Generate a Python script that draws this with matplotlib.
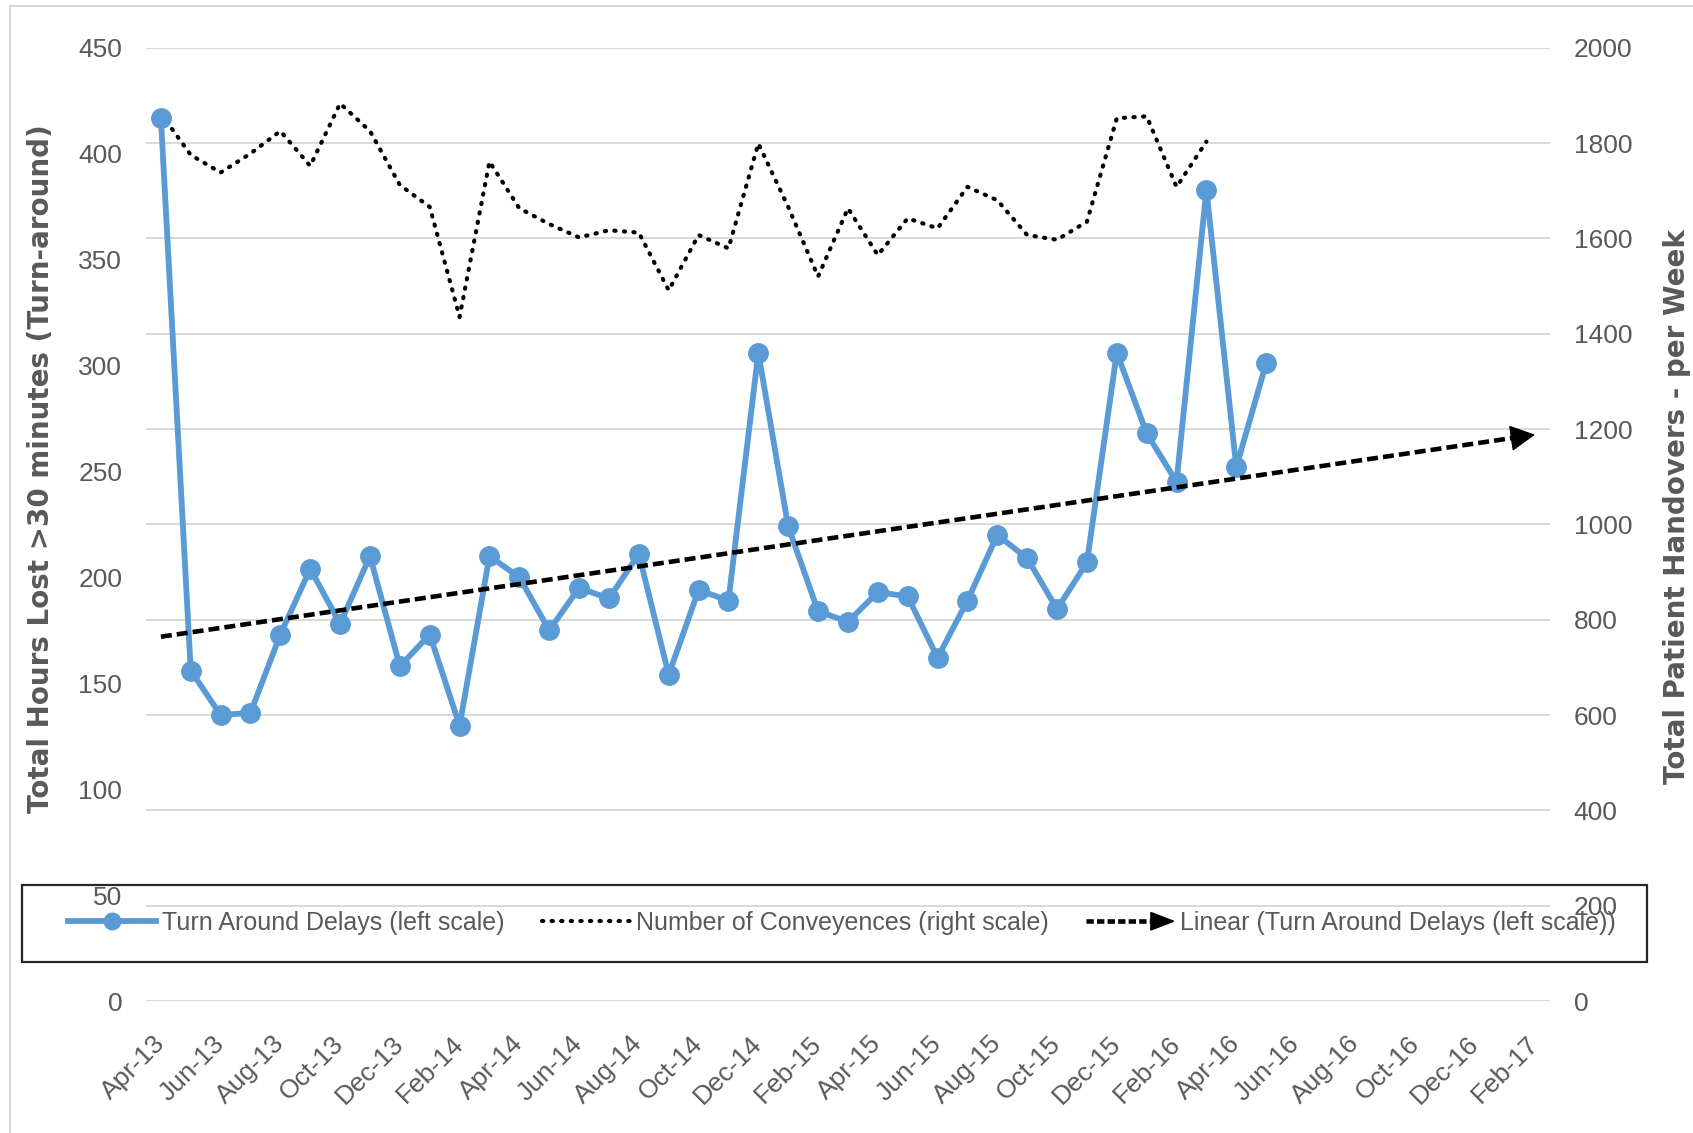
import numpy as np
import matplotlib
matplotlib.use('Agg')
import matplotlib.pyplot as plt
from matplotlib.lines import Line2D
from matplotlib.patches import Rectangle, Polygon
from matplotlib.legend_handler import HandlerBase
from matplotlib.transforms import ScaledTranslation

plt.rcParams['font.family'] = ['Liberation Sans', 'DejaVu Sans']

tick_labels = ['Apr-13', 'Jun-13', 'Aug-13', 'Oct-13', 'Dec-13', 'Feb-14', 'Apr-14', 'Jun-14',
               'Aug-14', 'Oct-14', 'Dec-14', 'Feb-15', 'Apr-15', 'Jun-15', 'Aug-15', 'Oct-15',
               'Dec-15', 'Feb-16', 'Apr-16', 'Jun-16', 'Aug-16', 'Oct-16', 'Dec-16', 'Feb-17']

# monthly from Apr-13 to May-16 (left scale)
delays = [417, 156, 135, 136, 173, 204, 178, 210, 158, 173,
          130, 210, 200, 175, 195, 190, 211, 154, 194, 189,
          306, 224, 184, 179, 193, 191, 162, 189, 220, 209,
          185, 207, 306, 268, 245, 383, 252, 301]

# monthly from Apr-13 to Mar-16 (right scale)
conveyances = [1862, 1775, 1738, 1778, 1825, 1752, 1883, 1825, 1712, 1666,
               1435, 1761, 1663, 1630, 1602, 1617, 1612, 1491, 1607, 1579,
               1799, 1666, 1520, 1663, 1565, 1642, 1621, 1708, 1680, 1607,
               1597, 1635, 1852, 1856, 1708, 1803]

n_months = 47  # Apr-13 .. Feb-17

GREY = '#595959'
BLUE = '#5B9BD5'
DOTS = (0, (0.3, 2.0))

fig = plt.figure(figsize=(16.93, 11.33), dpi=100)
fig.subplots_adjust(left=0.0862, right=0.9155, top=0.9579, bottom=0.1165)
ax = fig.add_subplot(111)
ax2 = ax.twinx()

x_del = np.arange(len(delays))
x_conv = np.arange(len(conveyances))

ax2.plot(x_conv, conveyances, color='black', lw=3.0, linestyle=DOTS, dash_capstyle='round')
blue, = ax.plot(x_del, delays, color=BLUE, lw=4.2, marker='o', markersize=14)

# linear trend, forecast forward to Feb-17
slope, icpt = np.polyfit(x_del, delays, 1)
x_tr = np.array([0, n_months - 1 - 0.6])
trend, = ax.plot(x_tr, slope * x_tr + icpt, color='black', lw=3.3, linestyle=(0, (2.4, 1.1)))
x_end = n_months - 1
ax.annotate('', xy=(x_end, slope * x_end + icpt), xytext=(x_end - 0.8, slope * (x_end - 0.8) + icpt),
            arrowprops=dict(arrowstyle='-|>,head_length=0.8,head_width=0.42', color='black',
                            lw=1, mutation_scale=20, shrinkA=0, shrinkB=0))

ax.set_zorder(ax2.get_zorder() + 1)
ax.patch.set_visible(False)

ax.set_xlim(-0.5, n_months - 0.5)
ax.set_ylim(0, 450)
ax.set_yticks(np.arange(0, 451, 50))
ax2.set_ylim(0, 2000)
ax2.set_yticks(np.arange(0, 2001, 200))
ax2.grid(axis='y', color='#d9d9d9', lw=1.4)
ax2.set_axisbelow(True)

ax.set_xticks(np.arange(0, n_months, 2))
ax.set_xticklabels(tick_labels, rotation=45, ha='right', va='center', rotation_mode='anchor')
for lab in ax.get_xticklabels():
    lab.set_transform(lab.get_transform() + ScaledTranslation(0.1, 0, fig.dpi_scale_trans))

for a in (ax, ax2):
    for s in a.spines.values():
        s.set_visible(False)
ax.tick_params(axis='x', length=0, pad=28, labelsize=19, labelcolor=GREY)
ax.tick_params(axis='y', length=0, pad=17, labelsize=19, labelcolor=GREY)
ax2.tick_params(axis='y', length=0, pad=17, labelsize=19, labelcolor=GREY)

fig.text(41 / 1693, 1 - 469 / 1133, 'Total Hours Lost >30 minutes (Turn-around)',
         rotation=90, ha='center', va='center', fontsize=20, fontweight='bold',
         color=GREY, family='DejaVu Sans')
fig.text(1677 / 1693, 1 - 507 / 1133, 'Total Patient Handovers - per Week',
         rotation=90, ha='center', va='center', fontsize=20, fontweight='bold',
         color=GREY, family='DejaVu Sans')


class ArrowHandler(HandlerBase):
    def create_artists(self, legend, orig_handle, xdescent, ydescent, width, height, fontsize, trans):
        y = height / 2 - ydescent
        x0 = -xdescent
        line = Line2D([x0, x0 + width * 0.78], [y, y], color='black', lw=3.3,
                      linestyle=(0, (1.6, 0.7)))
        head = Polygon([[x0 + width * 0.74, y + height * 0.5], [x0 + width, y],
                        [x0 + width * 0.74, y - height * 0.5]], closed=True, color='black')
        line.set_transform(trans)
        head.set_transform(trans)
        return [line, head]


conv_handle = Line2D([], [], color='black', lw=3.0, linestyle=DOTS, dash_capstyle='round')
leg = ax.legend([blue, conv_handle, trend],
                ['Turn Around Delays (left scale)', 'Number of Conveyences (right scale)',
                 'Linear (Turn Around Delays (left scale))'],
                handler_map={trend: ArrowHandler()},
                loc='center', bbox_to_anchor=(842 / 1693, 1 - 923 / 1133),
                bbox_transform=fig.transFigure, ncol=3, frameon=False,
                fontsize=18, labelcolor=GREY, handlelength=3.5, handletextpad=0.25,
                columnspacing=1.5, numpoints=1, markerscale=0.85)

fig.patches.append(Rectangle((22 / 1693, 1 - 962 / 1133), (1647 - 22) / 1693, (962 - 885) / 1133,
                             transform=fig.transFigure, fill=False, edgecolor='#262626', lw=1.6))
fig.patches.append(Rectangle((10 / 1693, -0.01), 1.1, 1 - 6 / 1133 + 0.01,
                             transform=fig.transFigure, fill=False, edgecolor='#d9d9d9', lw=1.5))

fig.savefig('out.png', dpi=100)
